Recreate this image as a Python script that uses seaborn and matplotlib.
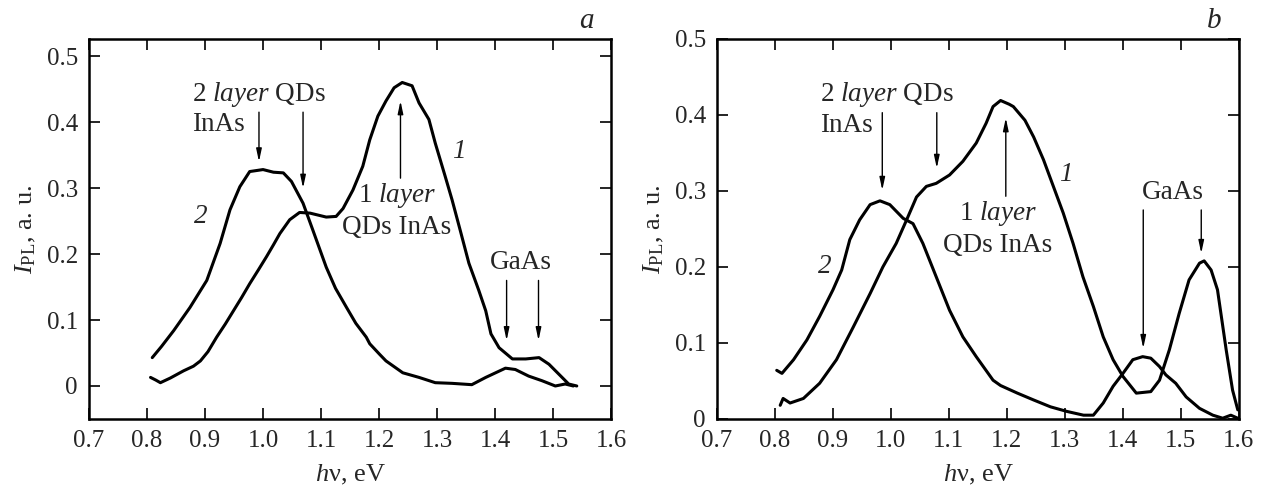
import numpy as np
import pandas as pd
import matplotlib
matplotlib.use("Agg")
import matplotlib.pyplot as plt
import seaborn as sns

# ---- data ----
# panel a, curve 1
a1_x = [0.806, 0.815, 0.823, 0.840, 0.863, 0.880, 0.892, 0.905, 0.920, 0.935, 0.949, 0.963,
        0.977, 0.992, 1.006, 1.018, 1.029, 1.046, 1.063, 1.081, 1.095, 1.109, 1.126, 1.138,
        1.155, 1.172, 1.184, 1.198, 1.212, 1.226, 1.240, 1.257, 1.269, 1.286, 1.297, 1.314,
        1.326, 1.340, 1.355, 1.372, 1.384, 1.393, 1.407, 1.430, 1.453, 1.476, 1.493, 1.510,
        1.527, 1.541]
a1_y = [0.013, 0.009, 0.005, 0.012, 0.023, 0.030, 0.038, 0.052, 0.074, 0.094, 0.114, 0.134,
        0.155, 0.176, 0.196, 0.214, 0.231, 0.252, 0.263, 0.262, 0.259, 0.256, 0.257, 0.269,
        0.297, 0.333, 0.373, 0.409, 0.432, 0.452, 0.460, 0.455, 0.429, 0.404, 0.368, 0.318,
        0.282, 0.236, 0.186, 0.145, 0.114, 0.079, 0.058, 0.041, 0.041, 0.043, 0.033, 0.018,
        0.003, 0.000]
# panel a, curve 2
a2_x = [0.809, 0.825, 0.846, 0.874, 0.903, 0.926, 0.943, 0.960, 0.977, 1.000, 1.018, 1.035,
        1.049, 1.069, 1.086, 1.109, 1.125, 1.144, 1.160, 1.178, 1.184, 1.201, 1.212, 1.241,
        1.269, 1.297, 1.326, 1.360, 1.384, 1.401, 1.418, 1.435, 1.458, 1.481, 1.504, 1.521,
        1.535]
a2_y = [0.043, 0.060, 0.084, 0.119, 0.160, 0.216, 0.267, 0.302, 0.325, 0.328, 0.324, 0.323,
        0.310, 0.277, 0.236, 0.180, 0.148, 0.119, 0.095, 0.074, 0.064, 0.048, 0.038, 0.020,
        0.013, 0.005, 0.004, 0.002, 0.013, 0.020, 0.027, 0.025, 0.015, 0.008, 0.000, 0.003,
        0.000]
# panel b, curve 1
b1_x = [0.809, 0.814, 0.826, 0.849, 0.877, 0.906, 0.935, 0.964, 0.986, 1.009, 1.027, 1.044,
        1.061, 1.078, 1.101, 1.124, 1.147, 1.164, 1.176, 1.189, 1.204, 1.211, 1.231, 1.246,
        1.263, 1.280, 1.297, 1.314, 1.331, 1.349, 1.366, 1.383, 1.400, 1.423, 1.448, 1.463,
        1.480, 1.497, 1.514, 1.532, 1.540, 1.552, 1.563, 1.578, 1.589, 1.598]
b1_y = [0.018, 0.027, 0.021, 0.027, 0.047, 0.078, 0.121, 0.165, 0.200, 0.231, 0.262, 0.292,
        0.306, 0.310, 0.321, 0.339, 0.363, 0.389, 0.411, 0.419, 0.414, 0.411, 0.393, 0.371,
        0.341, 0.306, 0.271, 0.231, 0.187, 0.148, 0.108, 0.078, 0.056, 0.034, 0.036, 0.051,
        0.091, 0.139, 0.183, 0.205, 0.208, 0.196, 0.170, 0.091, 0.038, 0.012]
# panel b, curve 2
b2_x = [0.803, 0.812, 0.832, 0.855, 0.877, 0.900, 0.915, 0.929, 0.946, 0.964, 0.981, 0.998,
        1.021, 1.038, 1.055, 1.078, 1.101, 1.124, 1.147, 1.176, 1.189, 1.218, 1.246, 1.275,
        1.303, 1.332, 1.349, 1.366, 1.383, 1.400, 1.417, 1.434, 1.448, 1.463, 1.474, 1.491,
        1.509, 1.532, 1.555, 1.572, 1.586, 1.598]
b2_y = [0.064, 0.060, 0.078, 0.104, 0.135, 0.170, 0.196, 0.236, 0.262, 0.282, 0.287, 0.282,
        0.264, 0.257, 0.231, 0.187, 0.143, 0.108, 0.082, 0.051, 0.044, 0.034, 0.025, 0.016,
        0.010, 0.005, 0.005, 0.021, 0.043, 0.060, 0.078, 0.082, 0.080, 0.069, 0.058, 0.047,
        0.029, 0.014, 0.005, 0.001, 0.005, 0.001]

x_ticks = [0.7, 0.8, 0.9, 1.0, 1.1, 1.2, 1.3, 1.4, 1.5, 1.6]
y_ticks = [0, 0.1, 0.2, 0.3, 0.4, 0.5]

# ---- style ----
sns.set_style("ticks")
plt.rcParams["font.family"] = ["Liberation Serif", "DejaVu Serif"]
plt.rcParams["mathtext.fontset"] = "custom"
plt.rcParams["mathtext.rm"] = "Liberation Serif"
plt.rcParams["mathtext.it"] = "Liberation Serif:italic"

TICK_FS = 18
LABEL_FS = 19
NOTE_FS = 19.5

fig = plt.figure(figsize=(12.65, 4.86), dpi=100)
ax_a = fig.add_axes([0.0704, 0.1379, 0.4126, 0.782])
ax_b = fig.add_axes([0.5668, 0.1379, 0.4126, 0.782])

def draw_curves(ax, x1, y1, x2, y2):
    sns.lineplot(x=x1, y=y1, ax=ax, color="black", lw=2.2, sort=False)
    sns.lineplot(x=x2, y=y2, ax=ax, color="black", lw=2.2, sort=False)

def style_axes(ax, ylim):
    ax.set_xlim(0.7, 1.6)
    ax.set_ylim(*ylim)
    ax.set_xticks(x_ticks)
    ax.set_xticklabels([f"{t:.1f}" for t in x_ticks])
    ax.set_yticks(y_ticks)
    ax.set_yticklabels(["0" if t == 0 else f"{t:.1f}" for t in y_ticks])
    ax.tick_params(direction="in", length=8, width=1.2, top=True, right=True,
                   labelsize=TICK_FS, color="black")
    ax.tick_params(axis="x", pad=8)
    ax.tick_params(axis="y", pad=8)
    for s in ax.spines.values():
        s.set_visible(True)
        s.set_linewidth(1.8)
        s.set_color("black")
    ax.set_xlabel(r"$h$ν, eV", fontsize=LABEL_FS, va="top")
    ax.xaxis.set_label_coords(0.5, -0.115)
    ax.set_ylabel(r"$I_{\mathrm{PL}}$, a. u.", fontsize=LABEL_FS, labelpad=6)

def arrow(ax, x, y_from, y_to):
    ax.annotate("", xy=(x, y_to), xytext=(x, y_from),
                arrowprops=dict(arrowstyle="-|>,head_width=0.16,head_length=0.75",
                                color="black", lw=1.0, shrinkA=0, shrinkB=0))

def note(ax, x, y, s, ha="center", italic=False):
    ax.text(x, y, s, fontsize=NOTE_FS, ha=ha, va="baseline",
            style="italic" if italic else "normal")

# ---- panel a ----
draw_curves(ax_a, a1_x, a1_y, a2_x, a2_y)
style_axes(ax_a, (-0.05, 0.526))
note(ax_a, 0.877, 0.432, r"2 $\mathit{layer}$ QDs", ha="left")
note(ax_a, 0.877, 0.387, "InAs", ha="left")
arrow(ax_a, 0.993, 0.415, 0.340)
arrow(ax_a, 1.069, 0.415, 0.300)
arrow(ax_a, 1.237, 0.315, 0.432)
note(ax_a, 1.231, 0.279, r"1 $\mathit{layer}$")
note(ax_a, 1.231, 0.230, "QDs InAs")
note(ax_a, 1.445, 0.177, "GaAs")
arrow(ax_a, 1.420, 0.160, 0.069)
arrow(ax_a, 1.475, 0.160, 0.069)
ax_a.text(1.337, 0.356, "1", fontsize=NOTE_FS, style="italic", ha="center", va="center")
ax_a.text(0.892, 0.257, "2", fontsize=NOTE_FS, style="italic", ha="center", va="center")
ax_a.text(0.952, 1.029, "a", transform=ax_a.transAxes, fontsize=21, style="italic",
          ha="center", va="baseline")

# ---- panel b ----
draw_curves(ax_b, b1_x, b1_y, b2_x, b2_y)
style_axes(ax_b, (0, 0.5))
note(ax_b, 0.877, 0.418, r"2 $\mathit{layer}$ QDs", ha="left")
note(ax_b, 0.877, 0.378, "InAs", ha="left")
arrow(ax_b, 0.985, 0.403, 0.301)
arrow(ax_b, 1.079, 0.403, 0.330)
arrow(ax_b, 1.198, 0.293, 0.396)
note(ax_b, 1.185, 0.262, r"1 $\mathit{layer}$")
note(ax_b, 1.184, 0.220, "QDs InAs")
note(ax_b, 1.486, 0.289, "GaAs")
arrow(ax_b, 1.435, 0.275, 0.093)
arrow(ax_b, 1.535, 0.275, 0.218)
ax_b.text(1.302, 0.321, "1", fontsize=NOTE_FS, style="italic", ha="center", va="center")
ax_b.text(0.886, 0.200, "2", fontsize=NOTE_FS, style="italic", ha="center", va="center")
ax_b.text(0.952, 1.029, "b", transform=ax_b.transAxes, fontsize=21, style="italic",
          ha="center", va="baseline")

fig.savefig("out.png", dpi=100)
